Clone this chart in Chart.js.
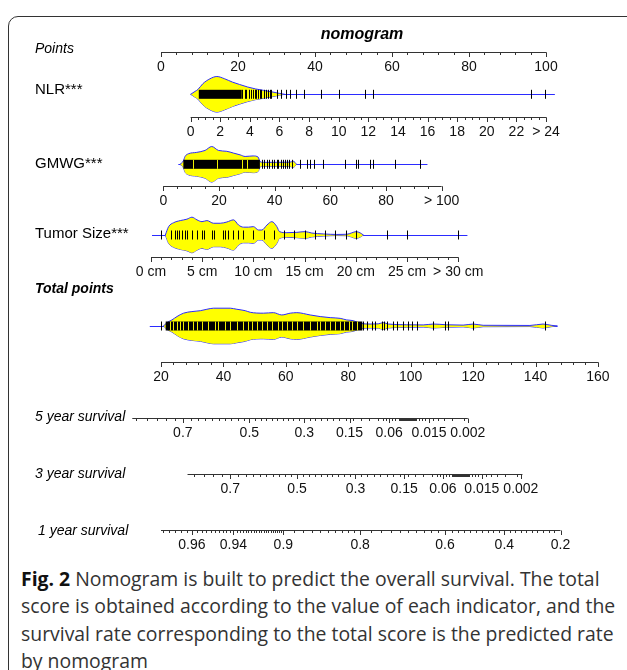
<!DOCTYPE html>
<html>
<head>
<meta charset="utf-8">
<script src="https://cdn.jsdelivr.net/npm/chart.js@4.4.0/dist/chart.umd.min.js"></script>
<style>
  body { margin: 0; background: #fff; width: 627px; height: 670px; overflow: hidden; position: relative; }
  #frame { position: absolute; left: 8px; top: 16px; width: 720px; height: 720px;
           border: 1.5px solid #333; border-radius: 10px; }
  #chart { position: absolute; left: 0; top: 0; }
  #caption { position: absolute; left: 21px; top: 565px; width: 610px; white-space: nowrap;
             font-family: "Open Sans", sans-serif; font-size: 19.4px; line-height: 27.3px; color: #333; }
  #caption b { color: #111; }
</style>
</head>
<body>
<div id="frame"></div>
<canvas id="chart" width="627" height="560"></canvas>
<div id="caption"><b>Fig. 2</b> Nomogram is built to predict the overall survival. The total<br>score is obtained according to the value of each indicator, and the<br>survival rate corresponding to the total score is the predicted rate<br>by nomogram</div>
<script>
// ---- data ----
const pointsTicks = [0, 20, 40, 60, 80, 100];

// NLR
const nlrTicks = [0, 2, 4, 6, 8, 10, 12, 14, 16, 18, 20, 22, 24];
const nlrLabels = ["0", "2", "4", "6", "8", "10", "12", "14", "16", "18", "20", "22", "> 24"];
const nlrScale = [[0, 7.7], [24, 100]];            // value -> points
const nlrDensX = [0, 0.29, 0.49, 0.83, 1.3, 1.77, 2.3, 2.84, 3.31, 3.85, 4.39, 4.93, 5.47, 6.0, 6.34];
const nlrDensY = [0, 0.16, 0.27, 0.6, 0.87, 1, 0.87, 0.68, 0.55, 0.41, 0.3, 0.22, 0.14, 0.05, 0];
const nlrBand = [[0.55, 3.45]];
const nlrGaps = [];
const nlrRug = [3.49, 3.65, 3.76, 3.94, 4.05, 4.21, 4.32, 4.44, 4.55, 4.66, 4.77, 4.93, 5.06, 5.22, 5.33, 5.44,
  5.82, 6.12, 6.45, 6.68, 7.12, 7.64, 8.8, 10.0, 11.8, 12.3, 23.0, 23.9];
const nlrRange = [0, 24.6];

// GMWG
const gmwgTicks = [0, 20, 40, 60, 80, 100];
const gmwgLabels = ["0", "20", "40", "60", "80", "> 100"];
const gmwgScale = [[0, 0.6], [100, 72.9]];
const gmwgDensX = [6.0, 7.2, 7.8, 9.0, 12.0, 15.0, 17.4, 19.8, 22.8, 25.2, 27.6, 29.4, 32.3, 34.1, 34.7, 35.9, 40.7, 45.5, 46.7, 47.9];
const gmwgDensY = [0, 0.19, 0.44, 0.59, 0.67, 0.78, 1, 0.78, 0.73, 0.63, 0.53, 0.44, 0.47, 0.4, 0.15, 0.11, 0.11, 0.12, 0.17, 0];
const gmwgBand = [[7.2, 34.7]];
const gmwgGaps = [10.7, 19.4, 28.2, 30.2];
const gmwgRug = [35.3, 36.2, 37.1, 38.1, 38.9, 39.8, 40.7, 41.3, 42.2, 42.9, 43.7, 44.6, 45.3, 46.1,
  49.1, 51.5, 52.7, 54.3, 57.5, 65.3, 69.2, 70.1, 74.3, 75.5, 83.3, 92.2];
const gmwgRange = [5.4, 94.9];

// Tumor size (cm)
const tumorTicks = [0, 5, 10, 15, 20, 25, 30];
const tumorLabels = ["0 cm", "5 cm", "10 cm", "15 cm", "20 cm", "25 cm", "> 30 cm"];
const tumorScale = [[0, -2.6], [30, 77.2]];
const tumorDensX = [1.4, 1.72, 2.21, 2.86, 3.51, 4.0, 4.49, 4.98, 5.46, 6.11, 6.76, 7.41, 8.06, 8.55, 9.03, 9.52, 10.0,
  10.5, 10.83, 11.32, 11.8, 12.29, 12.55, 13.27, 14.24, 15.05, 15.7, 16.84, 18.15, 19.12, 19.6, 20.03, 20.42, 20.74];
const tumorDensY = [0, 0.47, 0.69, 0.81, 0.89, 1, 0.85, 0.75, 0.81, 0.66, 0.66, 0.73, 0.85, 0.56, 0.44, 0.44, 0.47,
  0.28, 0.28, 0.56, 0.75, 0.47, 0.19, 0.13, 0.15, 0.19, 0.11, 0.06, 0.03, 0.04, 0.12, 0.19, 0.12, 0];
const tumorBand = [];
const tumorGaps = [];
const tumorRug = [1, 2, 2.3, 2.5, 2.7, 3, 3.3, 3.5, 4, 4.5, 5, 5.2, 6, 6.2, 7, 7.2, 7.5, 8, 8.5, 9, 10, 11, 12, 13,
  14, 15, 16, 17, 18, 19, 20, 23, 25, 30];
const tumorRange = [0.1, 30.9];

// Total points
const totalTicks = [20, 40, 60, 80, 100, 120, 140, 160];
const totalScale = [[20, 0], [160, 113.5]];
const totalDensX = [20.8, 21.9, 23.5, 25.1, 27.2, 29.9, 32.6, 34.7, 36.8, 42.2, 44.3, 47.0, 48.6, 52.8, 56.0, 58.7,
  61.4, 63.5, 67.8, 71.0, 74.2, 77.4, 79.5, 81.6, 83.8, 87.0, 89.6, 91.2, 92.8, 98.7, 104.0, 107.2, 111.5, 116.8,
  120.0, 123.2, 138.2, 142.4, 145.0, 147.0];
const totalDensY = [0, 0.19, 0.34, 0.53, 0.72, 0.81, 0.86, 0.94, 1, 1, 0.94, 0.86, 0.77, 0.72, 0.75, 0.62,
  0.72, 0.75, 0.62, 0.53, 0.47, 0.43, 0.34, 0.3, 0.15, 0.11, 0.12, 0.19, 0.11, 0.07, 0.06, 0.11, 0.07, 0.05,
  0.11, 0.04, 0.03, 0.11, 0.04, 0];
const totalBand = [[21.5, 84.5]];
const totalGaps = [23.0, 23.9, 25.1, 26.0, 27.2, 28.8, 30.4, 31.5, 33.1, 35.2, 37.4, 38.4, 40.6, 42.2, 44.3, 46.4,
  48.0, 49.1, 50.7, 52.3, 53.9, 55.5, 57.6, 58.7, 60.3, 61.9, 63.5, 65.6, 67.8, 69.9, 71.0, 72.6, 74.2, 75.8,
  77.4, 78.5, 80.1, 81.1, 82.7];
const totalRug = [20, 84.8, 86.1, 87.5, 88.6, 90.7, 91.5, 92.3, 94.4, 95.5, 97.6, 99.2, 100.3, 101.9, 107.2, 111,
  112, 120, 143];
const totalRange = [16.4, 147];

// Survival axes (label probability -> total points)
const surv5Probs = [0.7, 0.5, 0.3, 0.15, 0.06, 0.015, 0.002];
const surv5At = [27.0, 48.3, 65.9, 80.4, 93.1, 105.9, 118.3];
const surv5Range = [10.8, 118.3];
const surv3Probs = [0.7, 0.5, 0.3, 0.15, 0.06, 0.015, 0.002];
const surv3At = [42.2, 63.6, 82.3, 97.9, 110.3, 122.8, 135.3];
const surv3Range = [28.5, 135.8];
const surv1Probs = [0.96, 0.94, 0.9, 0.8, 0.6, 0.4, 0.2];
const surv1At = [29.9, 43.2, 59.2, 83.8, 111.0, 130.0, 148.0];
const surv1Range = [20, 148];

// ---- layout / style ----
const FONT = '"Liberation Sans", Arial, sans-serif';
const VH = 17.8;      // violin max half height
const RUG = 4.5;      // rug half height
const BLUE = "#2b2bff";
const pointsIdent = [[0, 0], [100, 100]];

function toPts(v, sc) {
  const [[a0, p0], [a1, p1]] = sc;
  return p0 + (v - a0) * (p1 - p0) / (a1 - a0);
}
function steps(from, to, step) {
  const out = [];
  const n = Math.round((to - from) / step);
  for (let i = 0; i <= n; i++) out.push(+(from + i * step).toFixed(4));
  return out;
}
function probSteps(spec) {
  const out = [];
  spec.forEach(([a, b, st]) => {
    const n = Math.round((a - b) / st);
    for (let i = 0; i <= n; i++) out.push(+(a - i * st).toFixed(5));
  });
  return out;
}
// position of a survival probability, interpolated on cloglog between the labelled ticks
function probToTotal(s, probs, at) {
  const g = p => Math.log(-Math.log(p));
  const gs = probs.map(g);
  const x = g(s);
  let i = 0;
  while (i < gs.length - 2 && x > gs[i + 1]) i++;
  return at[i] + (x - gs[i]) * (at[i + 1] - at[i]) / (gs[i + 1] - gs[i]);
}

const rows = [
  { label: "NLR***", labelY: 94, center: 94.3, axisY: 116.7, scale: nlrScale, ticks: nlrTicks, labels: nlrLabels,
    minor: steps(0, 24, 0.5), densX: nlrDensX, densY: nlrDensY, band: nlrBand, gaps: nlrGaps, rug: nlrRug, range: nlrRange },
  { label: "GMWG***", labelY: 168, center: 164.3, axisY: 186, scale: gmwgScale, ticks: gmwgTicks, labels: gmwgLabels,
    minor: steps(0, 100, 5), densX: gmwgDensX, densY: gmwgDensY, band: gmwgBand, gaps: gmwgGaps, rug: gmwgRug, range: gmwgRange },
  { label: "Tumor Size***", labelY: 238, center: 235, axisY: 256.7, scale: tumorScale, ticks: tumorTicks, labels: tumorLabels,
    minor: steps(0, 30, 1), densX: tumorDensX, densY: tumorDensY, band: tumorBand, gaps: tumorGaps, rug: tumorRug, range: tumorRange },
  { label: "Total points", labelY: 293, bold: true, center: 326, axisY: 362, scale: totalScale, ticks: totalTicks,
    labels: totalTicks.map(String), minor: steps(20, 160, 4), densX: totalDensX, densY: totalDensY, band: totalBand,
    gaps: totalGaps, rug: totalRug, range: totalRange }
];

const survRows = [
  { label: "5 year survival", x: 35, labelY: 421, axisY: 417.7, probs: surv5Probs, at: surv5At, range: surv5Range,
    minor: probSteps([[0.80, 0.08, 0.02], [0.07, 0.045, 0.005], [0.044, 0.026, 0.001], [0.025, 0.0025, 0.0025]]) },
  { label: "3 year survival", x: 35, labelY: 478, axisY: 474.3, probs: surv3Probs, at: surv3At, range: surv3Range,
    minor: probSteps([[0.80, 0.08, 0.02], [0.07, 0.045, 0.005], [0.044, 0.026, 0.001], [0.025, 0.0025, 0.0025]]) },
  { label: "1 year survival", x: 38, labelY: 535, axisY: 530, probs: surv1Probs, at: surv1At, range: surv1Range,
    minor: probSteps([[0.97, 0.90, 0.002], [0.89, 0.80, 0.01], [0.78, 0.22, 0.02]]) }
];

const datasets = [];
rows.forEach(r => {
  const up = r.densX.map((v, i) => ({ x: toPts(v, r.scale), y: r.center - r.densY[i] * VH }));
  const lo = r.densX.map((v, i) => ({ x: toPts(v, r.scale), y: r.center + r.densY[i] * VH }));
  datasets.push({ data: up, borderColor: BLUE, borderWidth: 1, backgroundColor: "#ffff00", fill: "+1",
    pointRadius: 0, cubicInterpolationMode: "monotone" });
  datasets.push({ data: lo, borderColor: BLUE, borderWidth: 1, fill: false,
    pointRadius: 0, cubicInterpolationMode: "monotone" });
});

function drawAxis(ctx, xs, ys, y, scale, from, to, majors, labels, minors) {
  const py = Math.round(ys.getPixelForValue(y)) + 0.5;
  const X = v => xs.getPixelForValue(toPts(v, scale));
  ctx.strokeStyle = "#333";
  ctx.lineWidth = 1;
  ctx.beginPath();
  ctx.moveTo(X(from), py); ctx.lineTo(X(to), py);
  minors.forEach(v => { const x = Math.round(X(v)) + 0.5; ctx.moveTo(x, py); ctx.lineTo(x, py + 2.5); });
  majors.forEach(v => { const x = Math.round(X(v)) + 0.5; ctx.moveTo(x, py); ctx.lineTo(x, py + 4.5); });
  ctx.stroke();
  ctx.fillStyle = "#111";
  ctx.font = "14px " + FONT;
  ctx.textAlign = "center";
  ctx.textBaseline = "alphabetic";
  majors.forEach((v, i) => ctx.fillText(labels[i], X(v), py + 18));
}

const nomoPlugin = {
  id: "nomo",
  beforeDatasetsDraw(chart) {
    const { ctx, scales: { x: xs, y: ys } } = chart;
    ctx.save();
    ctx.strokeStyle = BLUE;
    ctx.lineWidth = 1;
    rows.forEach(r => {
      const py = Math.round(ys.getPixelForValue(r.center)) + 0.5;
      ctx.beginPath();
      ctx.moveTo(xs.getPixelForValue(toPts(r.range[0], r.scale)), py);
      ctx.lineTo(xs.getPixelForValue(toPts(r.range[1], r.scale)), py);
      ctx.stroke();
    });
    ctx.restore();
  },
  afterDatasetsDraw(chart) {
    const { ctx, scales: { x: xs, y: ys } } = chart;
    ctx.save();
    // rugs
    rows.forEach(r => {
      const cy = ys.getPixelForValue(r.center);
      const X = v => xs.getPixelForValue(toPts(v, r.scale));
      ctx.fillStyle = "#000";
      r.band.forEach(([a, b]) => ctx.fillRect(X(a), cy - RUG, X(b) - X(a), RUG * 2));
      ctx.strokeStyle = "#f0f000";
      ctx.lineWidth = 1;
      ctx.beginPath();
      r.gaps.forEach(v => { const x = Math.round(X(v)) + 0.5; ctx.moveTo(x, cy - RUG); ctx.lineTo(x, cy + RUG); });
      ctx.stroke();
      ctx.strokeStyle = "#000";
      ctx.beginPath();
      r.rug.forEach(v => { const x = Math.round(X(v)) + 0.5; ctx.moveTo(x, cy - RUG); ctx.lineTo(x, cy + RUG); });
      ctx.stroke();
    });
    // points axis
    drawAxis(ctx, xs, ys, 52.3, pointsIdent, 0, 100, pointsTicks, pointsTicks.map(String), steps(0, 100, 4));
    // variable axes
    rows.forEach(r => {
      const from = r.ticks[0], to = r.ticks[r.ticks.length - 1];
      drawAxis(ctx, xs, ys, r.axisY, r.scale, from, to, r.ticks, r.labels, r.minor);
    });
    // survival axes
    survRows.forEach(s => {
      const minors = s.minor.map(p => probToTotal(p, s.probs, s.at))
        .filter(t => t >= s.range[0] - 0.01 && t <= s.range[1] + 0.01);
      drawAxis(ctx, xs, ys, s.axisY, totalScale, s.range[0], s.range[1], s.at, s.probs.map(String), minors);
    });
    // row labels
    ctx.fillStyle = "#000";
    ctx.textAlign = "left";
    ctx.textBaseline = "alphabetic";
    ctx.font = "italic 14px " + FONT;
    ctx.fillText("Points", 35, 53);
    rows.forEach(r => {
      ctx.font = (r.bold ? "italic bold 14px " : "15px ") + FONT;
      ctx.fillText(r.label, 35, r.labelY);
    });
    ctx.font = "italic 14px " + FONT;
    survRows.forEach(s => ctx.fillText(s.label, s.x, s.labelY));
    // title
    ctx.font = "italic bold 16px " + FONT;
    ctx.textAlign = "center";
    ctx.fillText("nomogram", 362, 38.5);
    ctx.restore();
  }
};

new Chart(document.getElementById("chart"), {
  type: "line",
  data: { datasets },
  options: {
    responsive: false,
    animation: false,
    events: [],
    devicePixelRatio: 1,
    layout: { padding: 0 },
    plugins: { legend: { display: false }, tooltip: { enabled: false } },
    scales: {
      x: { type: "linear", min: -41.82, max: 121.04, display: false },
      y: { type: "linear", min: 0, max: 560, reverse: true, display: false }
    }
  },
  plugins: [nomoPlugin]
});
</script>
</body>
</html>
